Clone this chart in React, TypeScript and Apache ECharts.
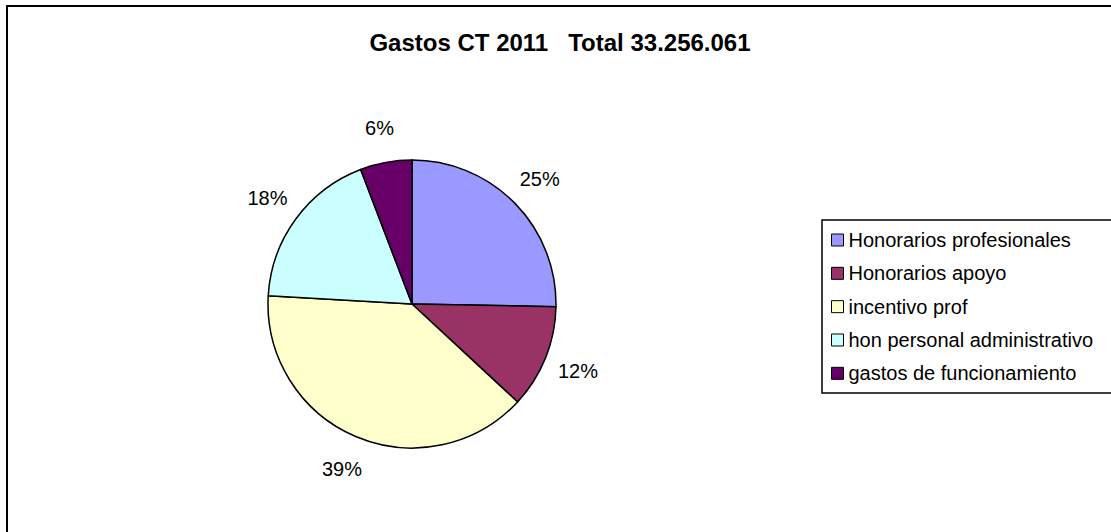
import React, { useEffect, useRef } from "react";
import * as echarts from "echarts";

const titleText = "Gastos CT 2011   Total 33.256.061";
const categories = [
  "Honorarios profesionales",
  "Honorarios apoyo",
  "incentivo prof",
  "hon personal administrativo",
  "gastos de funcionamiento",
];
const shares = [25.3, 11.6, 39.0, 18.3, 5.8];
const colors = ["#9999FF", "#993366", "#FFFFCC", "#CCFFFF", "#660066"];

const FONT = "'Liberation Sans', Arial, sans-serif";

export default function App() {
  const ref = useRef<HTMLDivElement>(null);
  useEffect(() => {
    document.body.style.margin = "0";
    if (!ref.current) return;
    const chart = echarts.init(ref.current, undefined, { renderer: "svg" });
    const data = categories.map((name, i) => ({
      name,
      value: shares[i],
      itemStyle: { color: colors[i] },
    }));
    chart.setOption({
      animation: false,
      backgroundColor: "#ffffff",
      graphic: [
        {
          type: "rect",
          shape: { x: 7, y: 6, width: 1300, height: 700 },
          style: { fill: "none", stroke: "#000", lineWidth: 2 },
          silent: true,
          z: 0,
        },
        {
          type: "rect",
          shape: { x: 822, y: 220, width: 400, height: 173 },
          style: { fill: "#fff", stroke: "#000", lineWidth: 1.5 },
          silent: true,
          z: 0,
        },
        {
          type: "text",
          x: 560,
          y: 42,
          style: {
            text: titleText,
            font: `bold 24px ${FONT}`,
            fill: "#000",
            textAlign: "center",
            textVerticalAlign: "middle",
          },
          z: 10,
        },
      ],
      legend: {
        orient: "vertical",
        left: 831,
        top: 230,
        padding: 0,
        itemGap: 13.33,
        itemWidth: 12,
        itemHeight: 12,
        icon: "rect",
        itemStyle: { borderColor: "#000", borderWidth: 1 },
        textStyle: {
          fontFamily: FONT,
          fontSize: 20,
          lineHeight: 20,
          color: "#000",
        },
        data: categories,
        selectedMode: false,
        z: 5,
      },
      series: [
        {
          type: "pie",
          center: [412, 304],
          radius: 144,
          startAngle: 90,
          clockwise: true,
          data,
          label: { show: false },
          labelLine: { show: false },
          itemStyle: { borderColor: "#000", borderWidth: 1.5 },
          emphasis: { disabled: true },
        },
        {
          type: "pie",
          center: [412, 304],
          radius: [168, 184],
          startAngle: 90,
          clockwise: true,
          data: categories.map((name, i) => ({ name, value: shares[i] })),
          itemStyle: { color: "rgba(0,0,0,0)", borderWidth: 0 },
          label: {
            show: true,
            position: "inside",
            formatter: (p: any) => Math.round(p.value) + "%",
            fontFamily: FONT,
            fontSize: 20,
            color: "#000",
          },
          labelLine: { show: false },
          emphasis: { disabled: true },
          silent: true,
          legendHoverLink: false,
        },
      ],
    });
    return () => chart.dispose();
  }, []);
  return <div ref={ref} style={{ width: 1111, height: 532 }} />;
}
